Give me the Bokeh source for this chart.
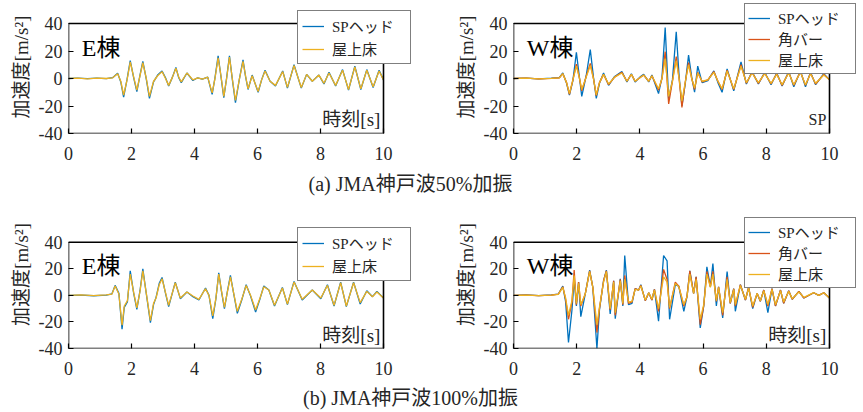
from bokeh.plotting import figure
from bokeh.models import Range1d, FixedTicker, Legend, LegendItem, Label, BoxAnnotation
from bokeh.layouts import column, row
from bokeh.embed import file_html
from bokeh.resources import INLINE

# ---------------- data ----------------
x_ticks = [0, 2, 4, 6, 8, 10]
y_ticks = [-40, -20, 0, 20, 40]
y_tick_labels = ["-40", "-20", "0", "20", "40"]

series_names = ["SPヘッド", "角バー", "屋上床"]
caption_a = "(a) JMA神戸波50%加振"
caption_b = "(b) JMA神戸波100%加振"
y_label = "加速度[m/s²]"
time_label = "時刻[s]"

# (a) E棟 50%
t1 = [0.00, 0.30, 0.60, 0.90, 1.20, 1.40, 1.56, 1.66, 1.75, 1.86,
      1.96, 2.07, 2.17, 2.27, 2.36, 2.47, 2.57, 2.70, 2.83, 2.97,
      3.08, 3.18, 3.30, 3.41, 3.50, 3.58, 3.76, 3.95, 4.10, 4.25,
      4.42, 4.56, 4.65, 4.75, 4.84, 4.93, 5.02, 5.11, 5.20, 5.30,
      5.42, 5.54, 5.62, 5.70, 5.83, 6.02, 6.13, 6.24, 6.40, 6.57,
      6.80, 6.95, 7.16, 7.39, 7.56, 7.74, 7.95, 8.11, 8.27, 8.48,
      8.70, 8.89, 9.09, 9.28, 9.47, 9.67, 9.86, 10.00]
sp1 = [0.0, 0.2, -0.1, 0.3, -0.1, 0.6, 3.8, -2.5, -13.5, -0.5,
       13.0, 0.5, -9.5, 2.5, 12.5, -0.5, -14.5, -2.5, 2.5, 5.5,
       0.5, -5.5, 1.0, 8.0, 0.5, -3.0, 4.0, -1.5, 0.5, -0.5,
       1.0, -11.5, 0.5, 16.5, 1.5, -14.0, 0.5, 16.5, -0.5, -17.5,
       -1.0, 13.5, 1.5, -8.0, 2.5, -10.0, -1.0, 6.0, -2.0, -5.5,
       5.5, -7.0, 10.0, -7.0, 3.0, -2.0, 2.5, -4.0, 4.5, -5.5,
       6.5, -8.5, 9.0, -8.0, 6.5, -6.5, 6.0, -1.0]
roof1 = [0.0, 0.3, -0.2, 0.2, 0.0, 0.5, 3.5, -2.0, -12.0, -1.0,
         12.0, 1.0, -8.5, 2.0, 11.5, 0.0, -13.0, -2.0, 2.0, 5.0,
         0.0, -5.0, 1.0, 7.5, 1.0, -2.5, 4.0, -1.0, 0.5, -0.5,
         1.0, -10.5, 0.0, 15.0, 2.0, -13.0, 0.0, 15.5, 0.0, -16.0,
         -1.0, 12.5, 2.0, -7.5, 2.0, -9.5, -1.0, 5.5, -2.0, -5.0,
         5.0, -6.5, 9.5, -6.5, 3.0, -2.0, 2.5, -3.5, 4.0, -5.0,
         6.0, -8.0, 8.5, -7.5, 6.0, -6.0, 5.5, -1.0]

# (a) W棟 50%
t2 = [0.00, 0.40, 0.80, 1.20, 1.45, 1.56, 1.68, 1.77, 1.88, 1.99,
      2.08, 2.16, 2.30, 2.43, 2.53, 2.62, 2.72, 2.85, 3.01, 3.20,
      3.43, 3.59, 3.73, 3.85, 4.00, 4.12, 4.28, 4.38, 4.59, 4.70,
      4.80, 4.91, 5.03, 5.15, 5.24, 5.33, 5.44, 5.54, 5.64, 5.73,
      5.83, 5.97, 6.15, 6.34, 6.47, 6.60, 6.76, 6.97, 7.20, 7.37,
      7.55, 7.75, 7.95, 8.15, 8.33, 8.50, 8.71, 8.87, 9.08, 9.24,
      9.40, 9.56, 9.82, 10.00]
sp2 = [0.0, 0.3, -0.3, 0.2, 0.6, 4.0, -3.5, -12.0, -1.5, 19.0,
       2.0, -13.0, 2.0, 21.0, 1.0, -14.5, -3.5, 4.0, -5.0, 1.5,
       5.0, -2.5, 3.5, -2.5, 1.0, 3.0, -2.5, 2.5, -11.0, 1.0,
       37.0, -15.0, -1.0, 34.0, 2.0, -20.0, -3.0, 17.0, 1.0, -10.0,
       9.0, -3.0, -1.5, 5.5, -3.0, -10.0, 7.0, -9.0, 12.0, -4.0,
       5.0, -4.0, 4.5, -4.5, 4.0, -5.5, 5.0, -6.0, 5.5, -6.0,
       4.5, -4.5, 3.5, -1.0]
bar2 = [0.0, 0.2, -0.2, 0.1, 0.5, 3.5, -3.0, -11.5, -1.0, 10.5,
        1.0, -9.0, 1.5, 11.0, 0.0, -12.5, -3.0, 3.0, -4.5, 1.0,
        4.5, -2.0, 3.0, -2.0, 0.5, 2.5, -2.0, 2.0, -8.5, 0.0,
        19.5, -18.5, -2.0, 16.0, 0.0, -21.0, -2.0, 11.5, 0.0, -8.0,
        4.5, -2.5, -1.0, 5.0, -2.0, -8.0, 6.0, -8.0, 10.0, -3.5,
        4.5, -3.5, 4.0, -4.0, 3.5, -5.0, 4.5, -5.0, 5.0, -5.0,
        4.0, -4.0, 3.0, -1.0]
roof2 = [0.0, 0.2, -0.2, 0.1, 0.5, 3.5, -3.0, -11.0, -1.0, 9.0,
         1.0, -8.0, 1.0, 9.5, 0.0, -12.0, -3.0, 3.0, -4.0, 1.0,
         4.0, -2.0, 3.0, -2.0, 0.5, 2.5, -2.0, 2.0, -7.5, 0.0,
         14.5, -13.0, -2.0, 13.0, 0.0, -16.5, -2.0, 10.0, 0.0, -7.0,
         4.0, -2.0, -1.0, 4.5, -2.0, -7.5, 5.5, -7.5, 9.0, -3.0,
         4.0, -3.0, 3.5, -3.5, 3.0, -4.5, 4.0, -4.5, 4.5, -4.5,
         3.5, -3.5, 2.5, -1.0]

# (b) E棟 100%
t3 = [0.00, 0.40, 0.80, 1.20, 1.38, 1.48, 1.60, 1.70, 1.77, 1.87,
      1.96, 2.07, 2.17, 2.27, 2.36, 2.48, 2.60, 2.70, 2.78, 2.88,
      2.97, 3.08, 3.18, 3.39, 3.55, 3.76, 3.95, 4.14, 4.35, 4.46,
      4.58, 4.68, 4.77, 4.86, 4.95, 5.04, 5.14, 5.25, 5.36, 5.50,
      5.64, 5.78, 5.94, 6.08, 6.20, 6.36, 6.54, 6.79, 6.95, 7.16,
      7.42, 7.74, 8.01, 8.22, 8.43, 8.64, 8.82, 9.05, 9.26, 9.47,
      9.65, 9.79, 10.00]
sp3 = [0.0, 0.2, -0.3, 0.2, 1.2, 7.5, 1.5, -25.5, -9.0, -5.0,
       18.5, 1.5, -10.5, 3.5, 20.0, -0.5, -20.5, -7.0, -1.5, 9.0,
       13.5, 1.5, -8.5, 10.0, -2.5, 2.5, -1.0, -3.5, 5.5, 0.0,
       -17.5, -2.5, 17.0, 2.5, -10.0, 2.5, 15.0, 0.5, -13.5, -3.5,
       8.0, -0.5, -12.5, -2.5, 7.0, 4.0, -8.0, 6.0, -7.0, 10.5,
       -3.5, 4.0, -2.5, 8.0, -8.0, 10.0, -8.5, 10.0, -6.5, 3.5,
       -1.0, 3.0, -2.0]
roof3 = [0.0, 0.3, -0.2, 0.3, 1.0, 7.0, 1.0, -22.5, -8.0, -4.0,
         16.0, 2.0, -9.5, 3.0, 18.5, 0.0, -19.0, -6.0, -2.0, 8.0,
         12.5, 2.0, -7.5, 9.5, -2.0, 2.5, -0.5, -3.0, 5.0, 0.0,
         -15.5, -2.0, 16.0, 3.0, -9.0, 2.0, 14.0, 1.0, -12.0, -3.0,
         7.5, 0.0, -11.0, -2.0, 6.5, 4.0, -7.5, 5.5, -6.5, 10.0,
         -3.0, 4.0, -2.0, 7.5, -7.5, 9.5, -8.0, 9.5, -5.5, 3.0,
         -1.0, 2.5, -2.0]

# (b) W棟 100%
t4 = [0.00, 0.40, 0.80, 1.20, 1.42, 1.56, 1.65, 1.74, 1.85, 1.92,
      1.99, 2.06, 2.13, 2.27, 2.41, 2.51, 2.64, 2.72, 2.85, 2.94,
      3.06, 3.17, 3.22, 3.38, 3.46, 3.52, 3.64, 3.75, 3.85, 3.96,
      4.03, 4.17, 4.28, 4.38, 4.46, 4.59, 4.75, 4.86, 4.94, 5.12,
      5.23, 5.39, 5.49, 5.58, 5.70, 5.78, 5.91, 6.02, 6.12, 6.23,
      6.31, 6.42, 6.49, 6.62, 6.76, 6.86, 6.97, 7.02, 7.18, 7.34,
      7.44, 7.57, 7.71, 7.81, 7.92, 8.05, 8.18, 8.29, 8.45, 8.55,
      8.71, 8.82, 9.03, 9.19, 9.50, 9.66, 9.82, 10.00]
sp4 = [0.0, 0.3, -0.2, 0.3, 1.0, 7.0, -5.0, -35.5, -11.0, 12.0,
       -8.0, 10.0, -16.0, 1.0, 19.0, 6.0, -40.0, -11.0, 11.0, 19.0,
       -14.0, 11.0, -17.5, 12.5, -8.0, 30.0, -7.0, -6.0, 5.0, 4.0,
       8.0, -4.0, 2.0, -3.5, 4.5, -19.5, 30.0, 26.0, -18.0, 8.0,
       7.0, -12.0, -1.0, 18.5, 1.5, 14.0, -24.5, -8.0, 21.5, 6.5,
       24.0, -8.0, 6.5, -17.0, 18.0, -6.0, 5.0, -12.0, 8.0, -3.5,
       6.0, -10.0, 1.5, -4.5, 4.0, -13.0, 5.0, -8.0, 4.0, -6.0,
       3.5, -3.0, 3.0, -2.0, 2.0, 0.0, 2.0, -2.0]
bar4 = [0.0, 0.2, -0.2, 0.2, 1.0, 6.5, -3.0, -18.0, -5.0, 19.0,
        -7.0, 10.0, -8.0, 1.0, 18.5, 6.0, -28.0, -10.0, 11.0, 18.5,
        -11.0, 11.0, -15.0, 12.0, -7.0, 15.0, -6.0, -5.0, 5.0, 4.0,
        7.5, -4.0, 2.0, -3.5, 4.5, -12.0, 19.5, 12.0, -10.0, 10.0,
        7.0, -8.0, -1.0, 18.5, 1.5, 14.0, -22.0, -8.0, 18.0, 6.5,
        18.0, -4.5, 6.5, -15.0, 14.0, -6.0, 5.0, -8.0, 8.0, -3.5,
        6.0, -9.0, 1.5, -4.5, 4.0, -8.0, 5.0, -8.0, 4.0, -6.0,
        3.5, -3.0, 3.0, -2.0, 2.0, 0.0, 2.0, -2.0]
roof4 = [0.0, 0.2, -0.2, 0.2, 0.8, 6.0, -2.0, -15.0, -4.0, 15.0,
         -6.0, 9.0, -7.0, 1.0, 18.0, 6.0, -22.0, -9.0, 10.0, 18.0,
         -10.0, 10.0, -13.0, 11.0, -6.0, 12.0, -5.0, -4.5, 4.5, 4.0,
         7.0, -3.5, 2.0, -3.0, 4.0, -10.0, 14.0, 10.0, -9.0, 9.0,
         6.5, -7.0, -1.0, 16.0, 1.5, 12.0, -18.0, -7.0, 16.0, 6.0,
         16.0, -4.0, 6.0, -13.0, 12.0, -5.5, 4.5, -7.0, 7.5, -3.0,
         5.5, -8.0, 1.5, -4.0, 3.5, -7.0, 4.5, -7.0, 3.5, -5.0,
         3.0, -2.5, 2.5, -1.5, 2.0, 0.0, 2.0, -2.0]

# ---------------- style ----------------
FONT = "Liberation Serif, Noto Sans CJK JP"
C_BLUE = "#0072BD"
C_ORANGE = "#D95319"
C_YELLOW = "#EDB120"
X0, X1, Y0, Y1 = 0, 10, -40, 40


def panel(width, height, bl, bt, bb, box_w, box_h, ext_r, ext_t, t, curves, legend_xy,
          name, corner, corner_size, legend_spacing, legend_pad):
    # frame = axes box + empty strip (right / top) where the legend overhangs the box
    fw = box_w + ext_r
    fh = box_h + ext_t
    xr = Range1d(X0, X0 + (X1 - X0) * fw / box_w)
    yr = Range1d(Y0, Y0 + (Y1 - Y0) * fh / box_h)
    p = figure(width=width, height=height, x_range=xr, y_range=yr,
               output_backend="svg", toolbar_location=None,
               min_border_left=bl, min_border_right=width - bl - fw,
               min_border_top=bt, min_border_bottom=bb)
    p.xgrid.visible = False
    p.ygrid.visible = False
    p.outline_line_color = None
    p.background_fill_color = "white"
    p.border_fill_color = "white"
    p.xaxis.ticker = FixedTicker(ticks=x_ticks)
    p.yaxis.ticker = FixedTicker(ticks=y_ticks)
    p.yaxis.major_label_overrides = {v: s for v, s in zip(y_ticks, y_tick_labels)}
    for ax in (p.xaxis[0], p.yaxis[0]):
        ax.axis_line_color = None
        ax.major_tick_in = 5
        ax.major_tick_out = 0
        ax.minor_tick_in = 0
        ax.minor_tick_out = 0
        ax.major_tick_line_color = "black"
        ax.major_tick_line_width = 1.2
        ax.major_label_text_font = FONT
        ax.major_label_text_font_size = "18px"
        ax.major_label_text_color = "#262626"
    p.xaxis.major_label_standoff = 13
    p.yaxis.major_label_standoff = 6
    p.yaxis.axis_label = y_label
    p.yaxis.axis_label_text_font = FONT
    p.yaxis.axis_label_text_font_size = "19px"
    p.yaxis.axis_label_text_font_style = "normal"
    p.yaxis.axis_label_text_color = "#262626"
    p.yaxis.axis_label_standoff = 4

    items = []
    for label, ys, color in curves:
        r = p.line(t, ys, line_color=color, line_width=1.3)
        items.append(LegendItem(label=label, renderers=[r]))

    # axes box
    p.add_layout(BoxAnnotation(left=X0, right=X1, bottom=Y0, top=Y1, fill_alpha=0,
                               line_color="black", line_width=1.6, line_alpha=1.0))

    leg = Legend(items=items, location=legend_xy)
    leg.label_text_font = FONT
    leg.label_text_font_size = "15px"
    leg.label_text_line_height = 1.0
    leg.label_text_color = "#262626"
    leg.label_height = 20
    leg.label_width = 74
    leg.glyph_height = 20
    leg.glyph_width = 22
    leg.label_standoff = 8
    leg.spacing = legend_spacing
    leg.padding = legend_pad
    leg.margin = 0
    leg.border_line_color = "black"
    leg.border_line_width = 1.3
    leg.background_fill_color = "white"
    leg.background_fill_alpha = 1.0
    p.add_layout(leg)

    p.add_layout(Label(x=0.42, y=22, text=name, text_font=FONT, text_font_size="24px",
                       text_baseline="middle", text_align="left", text_color="black"))
    p.add_layout(Label(x=9.9, y=-30, text=corner, text_font=FONT, text_font_size=corner_size,
                       text_baseline="middle", text_align="right", text_color="#262626"))
    return p


def caption(width, height, text, ymid):
    c = figure(width=width, height=height, x_range=Range1d(0, width), y_range=Range1d(0, height),
               output_backend="svg", toolbar_location=None,
               min_border_left=0, min_border_right=0, min_border_top=0, min_border_bottom=0)
    c.axis.visible = False
    c.grid.visible = False
    c.outline_line_color = None
    c.add_layout(Label(x=410, y=ymid, text=text, text_font=FONT, text_font_size="20px",
                       text_baseline="middle", text_align="center", text_color="#262626"))
    return c


pA = panel(430, 170, 68, 0, 37, 315, 110, 32, 23, t1,
           [(series_names[0], sp1, C_BLUE), (series_names[2], roof1, C_YELLOW)],
           (229, 69), "E棟", time_label, "19px", 2, 4)
pB = panel(433, 170, 83, 0, 37, 316, 110, 32, 23, t2,
           [(series_names[0], sp2, C_BLUE), (series_names[1], bar2, C_ORANGE), (series_names[2], roof2, C_YELLOW)],
           (231, 59), "W棟", "SP", "16px", 0, 3)
pC = panel(430, 177, 68, 0, 28, 315, 107, 32, 42, t3,
           [(series_names[0], sp3, C_BLUE), (series_names[2], roof3, C_YELLOW)],
           (229, 67), "E棟", time_label, "19px", 2, 4)
pD = panel(433, 177, 83, 0, 28, 316, 107, 32, 42, t4,
           [(series_names[0], sp4, C_BLUE), (series_names[1], bar4, C_ORANGE), (series_names[2], roof4, C_YELLOW)],
           (231, 60), "W棟", time_label, "19px", 0, 3)

capA = caption(863, 30, caption_a, 17)
capB = caption(863, 33, caption_b, 13)

layout = column(row(pA, pB), capA, row(pC, pD), capB)
open("out.html", "w").write(file_html(layout, INLINE))
